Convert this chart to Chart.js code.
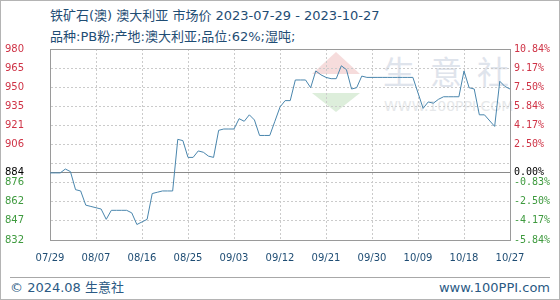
<!DOCTYPE html>
<html lang="zh">
<head>
<meta charset="UTF-8">
<title>铁矿石(澳) 澳大利亚 市场价</title>
<script src="https://cdn.jsdelivr.net/npm/chart.js"></script>
<style>
    html, body { margin: 0; padding: 0; background: #fff; }
    #wrap { position: relative; width: 560px; height: 300px; overflow: hidden;
            font-family: "DejaVu Sans", "Noto Sans CJK SC", sans-serif; }
    #frame { position: absolute; left: 0; top: 0; width: 558px; height: 298px;
             border: 1px solid #b4b4b4; pointer-events: none; z-index: 3; }
    .head { position: absolute; left: 50px; font-size: 13px; line-height: 16px;
            color: #1f4d74; white-space: nowrap; }
    .foot { position: absolute; top: 280px; font-size: 13px; line-height: 16px;
            color: #2b5a84; white-space: nowrap; }
    #footline { position: absolute; left: 10px; top: 277px; width: 540px; height: 1px; background: #a8a8a8; }
    /* faint watermark behind the plot */
    .wm { position: absolute; white-space: nowrap; z-index: 0; }
    #wm1 { left: 383px; top: 50px; font-size: 32px; line-height: 40px; letter-spacing: 15px;
           color: #dfe4ec; font-family: "Noto Sans CJK SC", sans-serif; }
    #wm2 { left: 384px; top: 98px; font-size: 14px; line-height: 16px; color: #e6e8ea; }
    #tri1 { left: 312px; top: 52px; width: 0; height: 0; border-left: 24px solid transparent;
            border-right: 24px solid transparent; border-bottom: 22px solid #f6dcdc; }
    #tri2 { left: 312px; top: 93px; width: 0; height: 0; border-left: 24px solid transparent;
            border-right: 24px solid transparent; border-top: 19px solid #ddeedb; }
    canvas { position: absolute; left: 0; top: 0; z-index: 1; }
</style>
</head>
<body>
<div id="wrap">
    <div class="wm" id="tri1"></div>
    <div class="wm" id="tri2"></div>
    <div class="wm" id="wm1">生意社</div>
    <div class="wm" id="wm2">WWW.100PPI.COM</div>
    <canvas id="price" width="560" height="300"></canvas>
    <div class="head" style="top:8px">铁矿石(澳) 澳大利亚 市场价 2023-07-29 - 2023-10-27</div>
    <div class="head" style="top:29px">品种:PB粉;产地:澳大利亚;品位:62%;湿吨;</div>
    <div id="footline"></div>
    <div class="foot" style="left:10px">© 2024.08 生意社</div>
    <div class="foot" style="right:10px">www.100PPI.com</div>
    <div id="frame"></div>
</div>

<script>
    // one entry per calendar day, 07/29 .. 10/27
    const days = [
        '07/29','07/30','07/31',
        '08/01','08/02','08/03','08/04','08/05','08/06','08/07','08/08','08/09','08/10',
        '08/11','08/12','08/13','08/14','08/15','08/16','08/17','08/18','08/19','08/20',
        '08/21','08/22','08/23','08/24','08/25','08/26','08/27','08/28','08/29','08/30','08/31',
        '09/01','09/02','09/03','09/04','09/05','09/06','09/07','09/08','09/09','09/10',
        '09/11','09/12','09/13','09/14','09/15','09/16','09/17','09/18','09/19','09/20',
        '09/21','09/22','09/23','09/24','09/25','09/26','09/27','09/28','09/29','09/30',
        '10/01','10/02','10/03','10/04','10/05','10/06','10/07','10/08','10/09','10/10',
        '10/11','10/12','10/13','10/14','10/15','10/16','10/17','10/18','10/19','10/20',
        '10/21','10/22','10/23','10/24','10/25','10/26','10/27'
    ];

    // yuan/ton (null = no quote that day)
    const prices = [
        884, 884, 884, 887, 885, 871, 870, 859, 858, 857,
        856, 848, 855, 855, 855, 855, 853, 844, 846, 848,
        868, 869, 870, 870, 870, 910, 909, 896, 896, 901,
        900, 897, 896, 917, 918, 918, 918, 926, 924, 929,
        925, 913, 913, 913, 924, 935, 940, 940, 956, 956,
        956, 950, 963, 960, 958, 957, 957, 967, 964, 949,
        950, 959, 958, 958, 958, 958, 958, 958, 958, 958,
        958, 958, null, 934, 939, 938, 941, 943, 943, 943,
        943, 963, 950, 949, 929, 929, null, 920, 955, 951,
        949
    ];

    const baseValue = 884;
    const yTickValues = [832, 846.8, 861.6, 876.4, 884, 891.2, 906, 920.8, 935.6, 950.4, 965.2, 980];
    const yTickLabels = ['832', '847', '862', '876', '884', '', '906', '921', '935', '950', '965', '980'];
    const pctTickLabels = ['-5.84%', '-4.17%', '-2.50%', '-0.83%', '0.00%', '', '2.50%', '4.17%', '5.84%', '7.50%', '9.17%', '10.84%'];
    const labelEvery = 9;

    const upColor = '#cf3346';
    const downColor = '#3e9a3e';
    const axisBlue = '#1f4d74';

    function tickColor(ctx) {
        if (!ctx.tick) return '#000';
        if (ctx.tick.value > baseValue) return upColor;
        if (ctx.tick.value < baseValue) return downColor;
        return '#000';
    }

    function useFixedTicks(scale) {
        scale.ticks = yTickValues.map(v => ({ value: v }));
    }

    Chart.defaults.font.family = 'DejaVu Sans';
    Chart.defaults.font.size = 10;

    new Chart(document.getElementById('price').getContext('2d'), {
        type: 'line',
        data: {
            labels: days,
            datasets: [{
                label: '市场价',
                data: prices,
                borderColor: '#4a86ad',
                borderWidth: 1,
                pointRadius: 0,
                tension: 0,
                fill: false,
                spanGaps: true
            }]
        },
        options: {
            responsive: false,
            animation: false,
            layout: { padding: { left: 5, right: 9, top: 49, bottom: 0 } },
            plugins: {
                legend: { display: false },
                tooltip: { enabled: false }
            },
            scales: {
                x: {
                    type: 'category',
                    afterFit: (scale) => { scale.height = 60; },
                    ticks: {
                        autoSkip: false,
                        maxRotation: 0,
                        padding: 12,
                        color: axisBlue,
                        callback: function (val, index) {
                            return index % labelEvery === 0 ? this.getLabelForValue(val) : '';
                        }
                    },
                    grid: {
                        drawTicks: false,
                        color: (ctx) => {
                            const i = ctx.index;
                            if (i === 0 || i === days.length - 1) return 'rgba(0,0,0,0)';
                            return i % labelEvery === 0 ? '#cbcbcb' : 'rgba(0,0,0,0)';
                        }
                    },
                    border: { display: true, color: '#9a9a9a', dash: [2, 2] }
                },
                y: {
                    position: 'left',
                    min: 832,
                    max: 980,
                    afterBuildTicks: useFixedTicks,
                    afterFit: (scale) => { scale.width = 45; },
                    ticks: {
                        autoSkip: false,
                        crossAlign: 'far',
                        padding: 0,
                        color: tickColor,
                        callback: (v, i) => yTickLabels[i]
                    },
                    grid: {
                        drawTicks: false,
                        color: (ctx) => {
                            if (!ctx.tick) return '#cbcbcb';
                            if (ctx.tick.value === baseValue) return '#8a8a8a';
                            if (ctx.tick.value === 980) return '#9a9a9a';
                            return '#cbcbcb';
                        }
                    },
                    border: {
                        display: true,
                        color: '#9a9a9a',
                        dash: (ctx) => (ctx.tick && (ctx.tick.value === baseValue || ctx.tick.value === 980)) ? [] : [2, 2]
                    }
                },
                y2: {
                    position: 'right',
                    min: 832,
                    max: 980,
                    afterBuildTicks: useFixedTicks,
                    afterFit: (scale) => { scale.width = 41; },
                    ticks: {
                        autoSkip: false,
                        crossAlign: 'near',
                        padding: 4,
                        color: tickColor,
                        font: { family: 'DejaVu Sans Mono', size: 10 },
                        callback: (v, i) => pctTickLabels[i]
                    },
                    grid: { drawOnChartArea: false, drawTicks: false },
                    border: { display: true, color: '#9a9a9a' }
                }
            }
        }
    });
</script>
</body>
</html>
